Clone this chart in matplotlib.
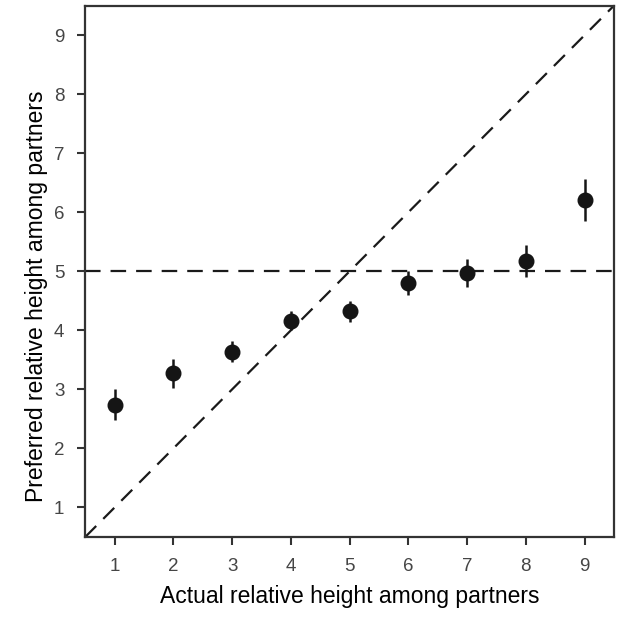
import matplotlib
matplotlib.use('Agg')
import matplotlib.pyplot as plt
import numpy as np

plt.rcParams['font.family'] = ['Liberation Sans', 'DejaVu Sans']

# actual relative height (x) vs preferred relative height (y), mean +/- error
actual = [1, 2, 3, 4, 5, 6, 7, 8, 9]
preferred = [2.74, 3.27, 3.64, 4.16, 4.32, 4.80, 4.97, 5.17, 6.21]
err = [0.26, 0.25, 0.18, 0.16, 0.17, 0.20, 0.24, 0.27, 0.35]
ticks = [1, 2, 3, 4, 5, 6, 7, 8, 9]

fig = plt.figure(figsize=(6.22, 6.34), dpi=100)
ax = fig.add_axes([0.137, 0.153, 0.850, 0.838])

lo, hi = 0.5, 9.5
ax.plot([lo, hi], [lo, hi], color='#1a1a1a', lw=1.6, dashes=(7, 4.5))
ax.axhline(5, color='#1a1a1a', lw=1.6, dashes=(7, 4.5))

ax.errorbar(actual, preferred, yerr=err, fmt='o', color='#151515',
            ms=10.5, elinewidth=1.8, capsize=0, zorder=3)

ax.set_xlim(lo, hi)
ax.set_ylim(lo, hi)
ax.set_xticks(ticks)
ax.set_yticks(ticks)
ax.tick_params(direction='out', length=6, width=1.5, color='#333333',
               labelsize=13.5, labelcolor='#454545', pad=9)
for s in ax.spines.values():
    s.set_linewidth(1.6)
    s.set_color('#333333')

ax.set_xlabel('Actual relative height among partners', fontsize=16.5, labelpad=7)
ax.set_ylabel('Preferred relative height among partners', fontsize=16.5)
ax.yaxis.set_label_coords(-0.07, 0.454)

plt.savefig('out.png', dpi=100)
